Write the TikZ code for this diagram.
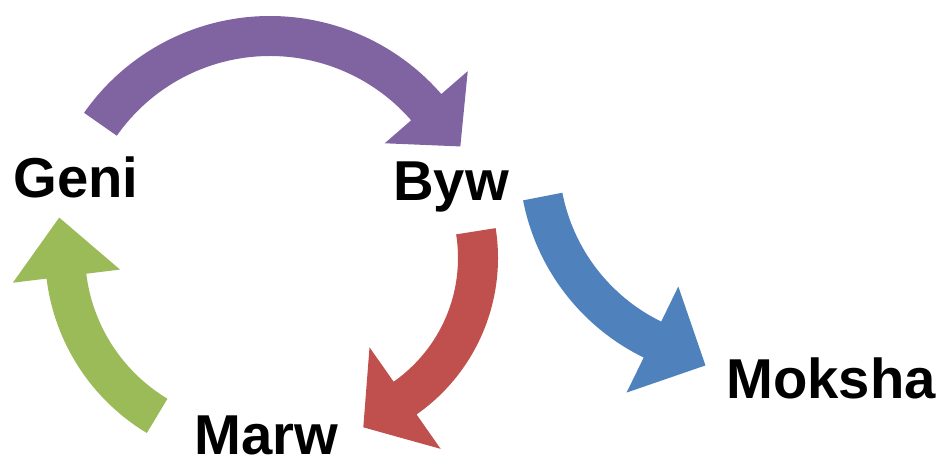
\documentclass[tikz,border=0pt]{standalone}
\usepackage{fontspec}
\setmainfont{Liberation Sans}
\usetikzlibrary{calc}
\definecolor{cyclepurple}{RGB}{128,100,162}
\definecolor{cyclered}{RGB}{192,80,77}
\definecolor{cycleblue}{RGB}{79,129,189}
\definecolor{cyclegreen}{RGB}{155,187,89}
% #1 colour, #2 centre, #3 tail angle, #4 head angle, #5 radius,
% #6 head length, #7 head half width, #8 turn (-90 or +90)
\newcommand{\bandarrow}[8]{%
    \fill[#1] ($(#2)+(#3:#5+20)$) arc[start angle=#3, end angle=#4, radius=#5+20]
        -- ($(#2)+(#4:#5+#7)$) -- ($(#2)+(#4:#5)+(#4#8:#6)$) -- ($(#2)+(#4:#5-#7)$)
        -- ($(#2)+(#4:#5-20)$) arc[start angle=#4, end angle=#3, radius=#5-20] -- cycle;}
\begin{document}
\begin{tikzpicture}[
        x=0.02cm, y=0.02cm,
        stage/.style={font=\bfseries\fontsize{32}{38}\selectfont, inner sep=0pt, anchor=base west}
    ]
    \useasboundingbox (0,0) rectangle (937,467);
    \node[stage] (geni) at (13,269) {Geni};
    \node[stage] (byw) at (393,266) {Byw};
    \node[stage] (marw) at (194,13) {Marw};
    \node[stage] (moksha) at (726,69) {Moksha};
    \coordinate (birth) at (270,224);
    \coordinate (death) at (307,209);
    \coordinate (rebirth) at (255,214);
    \coordinate (release) at (741,309);
    \bandarrow{cyclepurple}{birth}{145}{41}{207}{52}{55}{-90}
    \bandarrow{cyclered}{death}{9}{-55}{171}{51}{62}{-90}
    \bandarrow{cyclegreen}{rebirth}{239}{187}{190}{59}{54}{-90}
    \bandarrow{cycleblue}{release}{191}{244}{202}{59}{59}{+90}
\end{tikzpicture}
\end{document}
